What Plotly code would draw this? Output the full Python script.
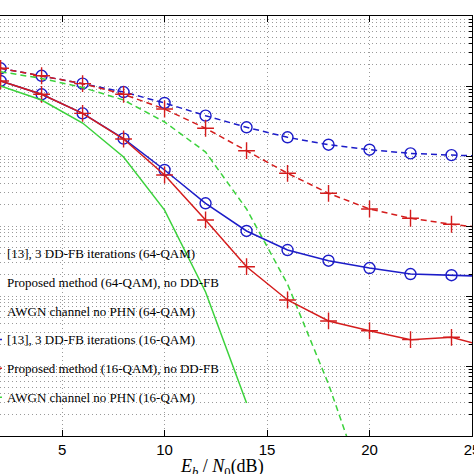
import plotly.graph_objects as go

# Eb/N0 (dB)
snr = [2, 4, 6, 8, 10, 12, 14, 16, 18, 20, 22, 24, 26]
snr_awgn64 = [2, 4, 6, 8, 10, 12, 14, 16, 18, 20]
snr_awgn16 = [2, 4, 6, 8, 10, 12, 14]

# BER values
ber_ref13_64 = [0.179, 0.140, 0.108, 0.0820, 0.0572, 0.0377, 0.0257, 0.0185, 0.0145, 0.0123, 0.0109, 0.0103, 0.0099]
ber_prop_64 = [0.179, 0.140, 0.108, 0.0761, 0.0469, 0.0249, 0.0119, 0.00566, 0.00293, 0.00175, 0.00129, 0.00106, 0.00091]
ber_awgn_64 = [0.160, 0.128, 0.0952, 0.0631, 0.0306, 0.0114, 0.00175, 1.48e-4, 5.5e-6, 1.14e-7]
ber_ref13_16 = [0.118, 0.0761, 0.0407, 0.0177, 0.00631, 0.00211, 8.49e-4, 4.54e-4, 3.19e-4, 2.51e-4, 2.06e-4, 1.98e-4, 1.90e-4]
ber_prop_16 = [0.118, 0.0761, 0.0407, 0.0175, 0.00535, 0.00122, 2.62e-4, 8.77e-5, 4.40e-5, 3.19e-5, 2.38e-5, 2.57e-5, 1.80e-5]
ber_awgn_16 = [0.100, 0.0631, 0.0296, 0.00968, 0.00169, 1.14e-4, 2.95e-6]

tick_vals = [0, 5, 10, 15, 20, 25]

names = [
    "[13], 3 DD-FB iterations (64-QAM)",
    "Proposed method (64-QAM), no DD-FB",
    "AWGN channel no PHN (64-QAM)",
    "[13], 3 DD-FB iterations (16-QAM)",
    "Proposed method (16-QAM), no DD-FB",
    "AWGN channel no PHN (16-QAM)",
]

BLUE = "#1c1cc8"
RED = "#d41c1c"
GREEN = "#3cd23c"

series = [
    (names[0], snr, ber_ref13_64, BLUE, "6px,4px", "circle-open"),
    (names[1], snr, ber_prop_64, RED, "6px,4px", "cross-thin-open"),
    (names[2], snr_awgn64, ber_awgn_64, GREEN, "6px,4px", None),
    (names[3], snr, ber_ref13_16, BLUE, "solid", "circle-open"),
    (names[4], snr, ber_prop_16, RED, "solid", "cross-thin-open"),
    (names[5], snr_awgn16, ber_awgn_16, GREEN, "solid", None),
]

fig = go.Figure()
for i, (nm, xs, ys, col, dash, sym) in enumerate(series):
    if sym:
        kw = dict(mode="lines+markers",
                  marker=dict(symbol=sym, size=11 if "circle" in sym else 12,
                              color=col, line=dict(color=col, width=1.4)))
    else:
        kw = dict(mode="lines")
    fig.add_trace(go.Scatter(x=xs, y=ys, name=nm, legendgroup=f"g{i}",
                             line=dict(color=col, width=1.5, dash=dash), **kw))

grid_col = "#9a9a9a"
grid_dash = "1px,3px"
fig.update_layout(
    width=474, height=474,
    template="none",
    paper_bgcolor="white", plot_bgcolor="white",
    margin=dict(l=0, r=2, t=16, b=38, autoexpand=False),
    showlegend=True,
    legend=dict(x=-0.07, xanchor="left", y=0.472, yanchor="top",
                bgcolor="rgba(0,0,0,0)", borderwidth=0,
                font=dict(family="Liberation Serif", size=13, color="black"),
                tracegroupgap=9),
    font=dict(family="Liberation Sans", size=14, color="black"),
    xaxis=dict(range=[1.97, 25.0], tickvals=tick_vals,
               showline=True, linecolor="black", linewidth=1, mirror="ticks",
               ticks="inside", ticklen=6, tickcolor="black",
               showgrid=True, gridcolor=grid_col, griddash=grid_dash, gridwidth=1,
               zeroline=False, automargin=False, ticklabeloverflow="allow",
               tickfont=dict(family="Liberation Sans", size=15)),
    yaxis=dict(type="log", range=[-6, 0], dtick=1, side="right",
               showline=True, linecolor="black", linewidth=1,
               ticks="inside", ticklen=6, tickcolor="black",
               showticklabels=False,
               showgrid=True, gridcolor=grid_col, griddash=grid_dash, gridwidth=1,
               minor=dict(dtick="D1", showgrid=True, gridcolor=grid_col, griddash=grid_dash,
                          ticks="inside", ticklen=3, tickcolor="black"),
               zeroline=False, automargin=False),
)

fig.add_annotation(x=12.8, xref="x", y=-0.043, yref="paper", yanchor="top",
                   text="<i>E<sub>b</sub></i> / <i>N</i><sub>0</sub>(dB)",
                   showarrow=False,
                   font=dict(family="Liberation Serif", size=18, color="black"))

fig.write_html("out.html", config={"displayModeBar": False},
               post_script="document.body.style.margin='0px';")
